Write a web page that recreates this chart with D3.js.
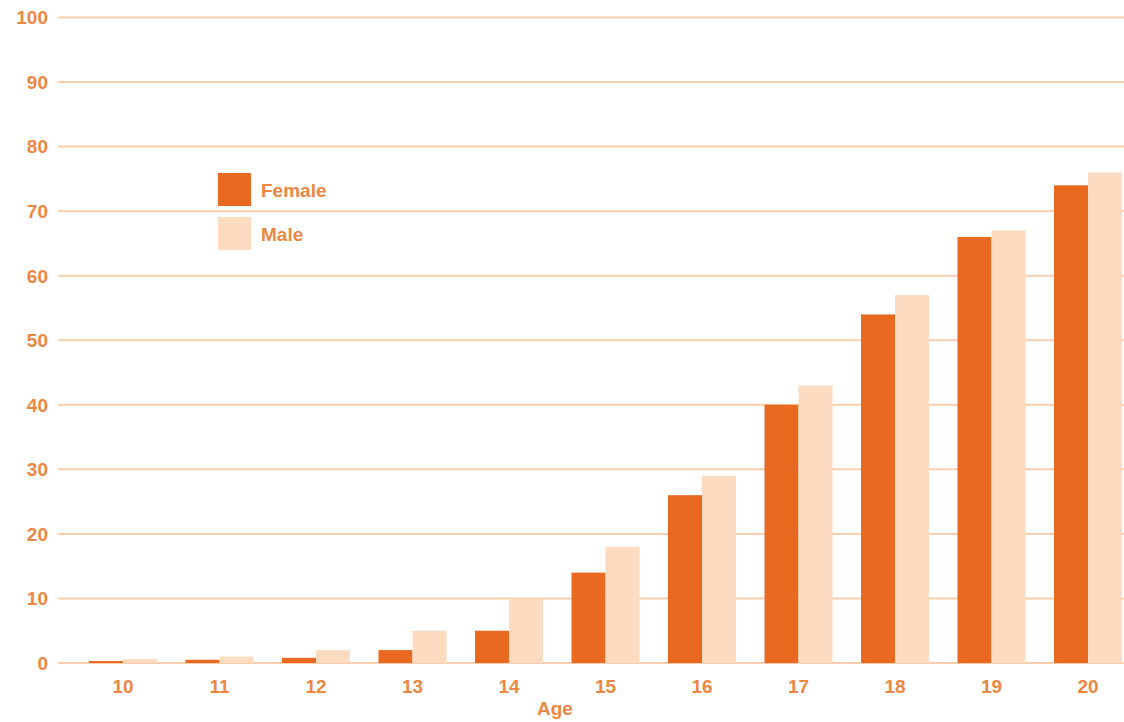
<!DOCTYPE html>
<html lang="en">
<head>
<meta charset="UTF-8">
<title>Female / Male by Age</title>
<script src="https://d3js.org/d3.v7.min.js"></script>
<style>
    body { margin: 0; background: #fff; }
    svg { display: block; }
    .lbl {
        font-family: "Liberation Sans", Arial, sans-serif;
        font-weight: bold;
        fill: #ec8743;
    }
    .grid line { stroke: #f9cdae; stroke-width: 2px; }
</style>
</head>
<body>
<div id="chart"></div>
<script>
// data
const ages = ["10", "11", "12", "13", "14", "15", "16", "17", "18", "19", "20"];
const female = [0.3, 0.5, 0.8, 2, 5, 14, 26, 40, 54, 66, 74];
const male = [0.6, 1, 2, 5, 10, 18, 29, 43, 57, 67, 76];
const seriesNames = ["Female", "Male"];
const yTicks = [0, 10, 20, 30, 40, 50, 60, 70, 80, 90, 100];

const width = 1124, height = 722;
const colors = { Female: "#e8691f", Male: "#fcdbc0" };

const svg = d3.select("#chart").append("svg")
    .attr("width", width)
    .attr("height", height);

const y = d3.scaleLinear().domain([0, 100]).range([663, 17.5]);

const x = d3.scaleBand()
    .domain(ages)
    .range([74.5, 1136.5])
    .paddingInner(0.295)
    .paddingOuter(0.15);

const xs = d3.scaleBand()
    .domain(seriesNames)
    .range([0, x.bandwidth()]);

// gridlines
svg.append("g").attr("class", "grid")
    .selectAll("line")
    .data(yTicks)
    .join("line")
    .attr("x1", 58)
    .attr("x2", width)
    .attr("y1", d => y(d))
    .attr("y2", d => y(d));

// y labels
svg.append("g")
    .selectAll("text")
    .data(yTicks)
    .join("text")
    .attr("class", "lbl")
    .attr("x", 48)
    .attr("y", d => y(d))
    .attr("dy", "0.36em")
    .attr("text-anchor", "end")
    .style("font-size", "19px")
    .text(d => d);

// bars
const rows = ages.map((a, i) => ({ age: a, Female: female[i], Male: male[i] }));

const groups = svg.append("g")
    .selectAll("g")
    .data(rows)
    .join("g")
    .attr("transform", d => `translate(${x(d.age)},0)`);

groups.selectAll("rect")
    .data(d => seriesNames.map(k => ({ key: k, value: d[k] })))
    .join("rect")
    .attr("x", d => xs(d.key))
    .attr("width", xs.bandwidth())
    .attr("y", d => y(d.value))
    .attr("height", d => y(0) - y(d.value))
    .attr("fill", d => colors[d.key]);

// x labels
svg.append("g")
    .selectAll("text")
    .data(ages)
    .join("text")
    .attr("class", "lbl")
    .attr("x", d => x(d) + x.bandwidth() / 2)
    .attr("y", 693)
    .attr("text-anchor", "middle")
    .style("font-size", "19px")
    .text(d => d);

svg.append("text")
    .attr("class", "lbl")
    .attr("x", 555)
    .attr("y", 715)
    .attr("text-anchor", "middle")
    .style("font-size", "19px")
    .text("Age");

// legend
const legend = svg.append("g")
    .selectAll("g")
    .data(seriesNames)
    .join("g")
    .attr("transform", (d, i) => `translate(218,${173 + i * 44})`);

legend.append("rect")
    .attr("width", 33)
    .attr("height", 33)
    .attr("fill", d => colors[d]);

legend.append("text")
    .attr("class", "lbl")
    .attr("x", 43)
    .attr("y", 24)
    .style("font-size", "19px")
    .text(d => d);
</script>
</body>
</html>
